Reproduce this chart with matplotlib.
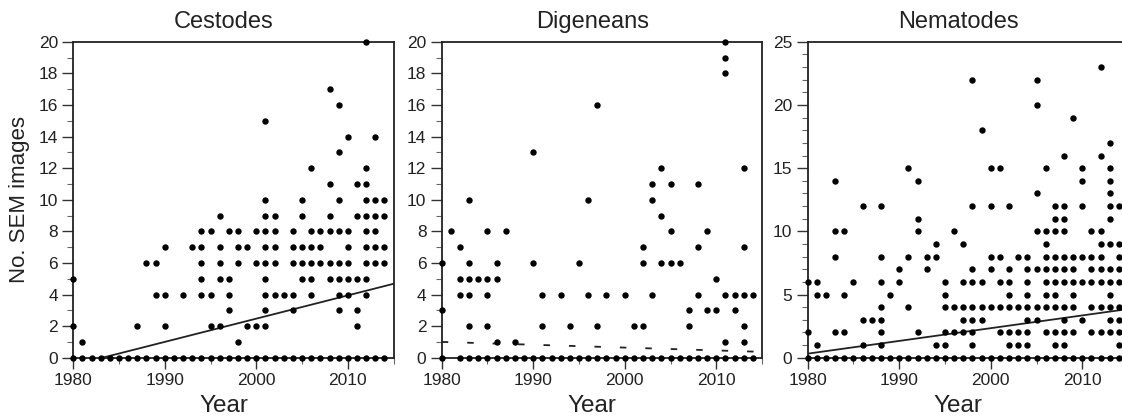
import matplotlib
matplotlib.use("Agg")
import matplotlib.pyplot as plt
from matplotlib.ticker import MultipleLocator

plt.rcParams['font.family'] = ['Liberation Sans', 'DejaVu Sans']

# Years shown on every panel (one column of dots per year).
years = list(range(1980, 2015))

# Number of SEM images per paper, one list per year (1980 ... 2014).
cestode_counts = [
    [0, 2, 5], [0, 1], [0], [0], [0], [0], [0], [0, 2], [0, 6], [0, 4, 6],
    [0, 2, 4, 7], [0], [0, 4], [0, 7], [0, 4, 5, 6, 7, 8], [0, 2, 4, 8],
    [0, 2, 5, 6, 7, 9], [0, 3, 4, 5, 8], [0, 1, 6, 7, 8], [0, 2, 7],
    [0, 2, 6, 8], [0, 2, 3, 4, 5, 6, 7, 8, 9, 10, 15], [0, 4, 6, 7, 8, 9],
    [0, 4], [0, 3, 4, 6, 7, 8], [0, 5, 6, 7, 9, 10], [0, 4, 5, 6, 7, 8, 12],
    [0, 6, 7, 8], [0, 5, 6, 8, 9, 11, 17], [0, 3, 4, 5, 6, 8, 10, 13, 16],
    [0, 4, 5, 6, 7, 8, 14], [0, 2, 3, 5, 9, 11],
    [0, 4, 5, 6, 7, 8, 9, 10, 11, 12, 20], [0, 6, 7, 8, 9, 10, 14],
    [0, 6, 7, 9, 10],
]

digenean_counts = [
    [0, 3, 6], [8], [0, 4, 5, 7], [0, 2, 4, 5, 6, 10], [0, 5], [0, 2, 4, 5, 8],
    [0, 1, 5, 6], [0, 8], [0, 1], [0], [0, 6, 13], [0, 2, 4], [0], [0, 4],
    [0, 2], [0, 6], [0, 4, 10], [0, 2, 16], [0, 4], [0], [0, 4], [0, 2],
    [0, 2, 6, 7], [0, 4, 10, 11], [0, 6, 9, 12], [0, 6, 8, 11], [0, 6],
    [0, 2, 3], [0, 4, 7, 11], [0, 3, 8], [0, 3, 5], [0, 1, 4, 18, 19, 20],
    [0, 3, 4], [0, 1, 2, 4, 7, 12], [0, 4],
]

nematode_counts = [
    [0, 2, 6], [0, 1, 5, 6], [0, 5], [0, 2, 8, 10, 14], [0, 2, 5, 10], [0, 6],
    [0, 1, 3, 12], [0, 3], [0, 1, 2, 3, 4, 6, 8, 12], [0, 5], [0, 6, 7],
    [0, 4, 8, 15], [0, 2, 10, 11, 14], [0, 7, 8], [0, 1, 8, 9],
    [0, 1, 2, 4, 5, 6], [0, 2, 4, 10], [0, 2, 3, 4, 6, 9],
    [0, 1, 2, 3, 4, 6, 7, 12, 22], [0, 3, 4, 6, 18], [0, 4, 7, 8, 12, 15],
    [0, 2, 4, 6, 8, 15], [0, 1, 2, 4, 5, 6, 7, 12], [0, 1, 2, 4, 8],
    [0, 1, 2, 3, 4, 5, 6, 7, 8], [0, 3, 4, 7, 10, 13, 20, 22],
    [0, 2, 4, 5, 6, 7, 8, 9, 10, 15], [0, 1, 2, 4, 5, 6, 7, 8, 10, 11, 12],
    [0, 1, 2, 3, 4, 6, 7, 8, 10, 11, 12, 16], [0, 2, 4, 5, 6, 7, 8, 19],
    [0, 3, 6, 8, 12, 14, 15], [0, 2, 4, 6, 7, 8, 10],
    [0, 2, 4, 6, 7, 8, 9, 10, 16, 23],
    [0, 2, 3, 4, 5, 6, 7, 9, 11, 12, 13, 14, 15, 17],
    [0, 1, 2, 3, 4, 6, 7, 8, 9, 12],
]

titles = ['Cestodes', 'Digeneans', 'Nematodes']
panel_counts = [cestode_counts, digenean_counts, nematode_counts]
y_max = [20, 20, 25]
y_major = [2, 2, 5]

# Fitted trend lines: value at 1980 and at 2015.
trend_years = [1980, 2015]
trend_values = [[-0.47, 4.68], [1.0, 0.37], [0.32, 3.85]]
trend_styles = ['-', (0, (3.6, 10.5)), '-']

fig = plt.figure(figsize=(11.22, 4.19), dpi=100)
lefts = [0.0653, 0.3937, 0.7199]
bottom, height, width = 0.1463, 0.754, 0.2855

for i in range(3):
    ax = fig.add_axes([lefts[i], bottom, width, height])

    xs, ys = [], []
    for yr, vals in zip(years, panel_counts[i]):
        for v in vals:
            xs.append(yr)
            ys.append(v)

    ax.plot(trend_years, trend_values[i], color='#222222', lw=1.3,
            linestyle=trend_styles[i], zorder=2)
    ax.plot(xs, ys, 'o', color='black', ms=4.6, mew=0, clip_on=False, zorder=3)

    ax.set_xlim(1980, 2015)
    ax.set_ylim(0, y_max[i])
    ax.xaxis.set_major_locator(MultipleLocator(10))
    ax.xaxis.set_minor_locator(MultipleLocator(5))
    ax.yaxis.set_major_locator(MultipleLocator(y_major[i]))
    ax.yaxis.set_minor_locator(MultipleLocator(1))
    ax.tick_params(which='major', direction='out', length=8, width=1,
                   labelsize=12.5, pad=3, color='#333333', labelcolor='#222222')
    ax.tick_params(which='minor', direction='out', length=4.5, width=0.8,
                   color='#666666')
    for sp in ax.spines.values():
        sp.set_linewidth(1.3)
        sp.set_color('#222222')

    ax.set_title(titles[i], fontsize=17, pad=10, x=0.47, color='#222222')
    ax.set_xlabel('Year', fontsize=17.5, color='#222222', va='baseline')
    ax.xaxis.set_label_coords(0.47, -0.172)
    if i == 0:
        ax.set_ylabel('No. SEM images', fontsize=16, labelpad=6,
                      color='#222222')

fig.savefig('out.png', dpi=100)
